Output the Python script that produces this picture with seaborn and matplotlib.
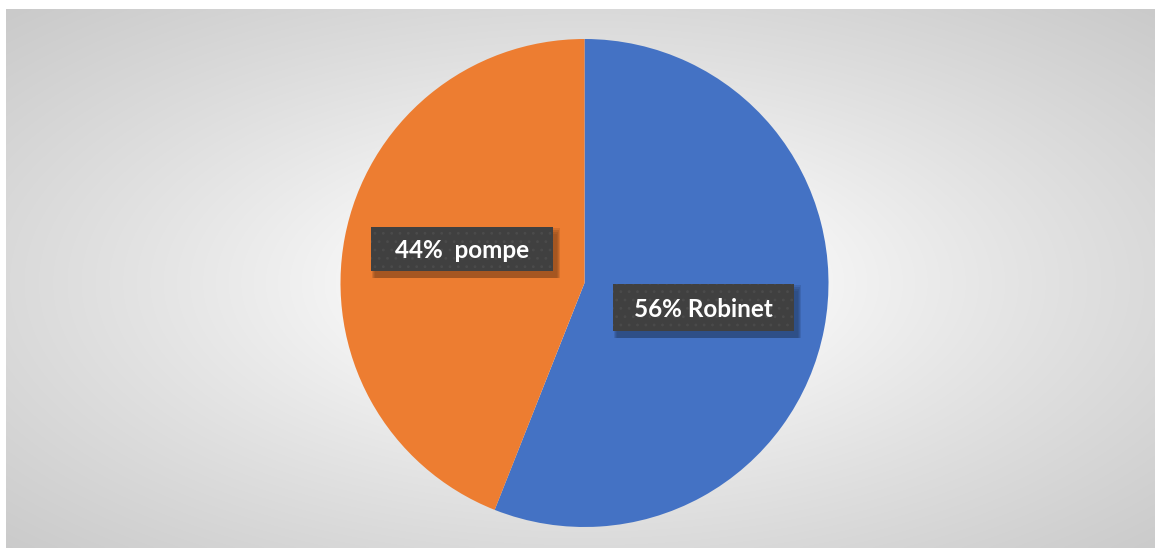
import numpy as np
import matplotlib
matplotlib.use("Agg")
import matplotlib.pyplot as plt
import seaborn as sns
from matplotlib.patches import Rectangle

sns.set_theme(style="white")
plt.rcParams['font.family'] = ['Lato', 'DejaVu Sans']

categories = ["Robinet", "pompe"]
values = [56, 44]
label_texts = ["56% Robinet", "44%  pompe"]
colors = ["#4472C4", "#ED7D31"]

W, H = 1155, 548
fig = plt.figure(figsize=(W / 100, H / 100), dpi=100)
fig.patch.set_facecolor("white")

# background panel with radial gradient
bx0, by0 = 6, 0
bw, bh = W - 6, H - 9
bg = fig.add_axes([bx0 / W, by0 / H, bw / W, bh / H])
nx, ny = 600, 300
xs = np.linspace(0, bw, nx)
ys = np.linspace(0, bh, ny)
X, Y = np.meshgrid(xs, ys)
cx, cy = 584.5 - bx0, 283 - 9
d = np.sqrt(((X - cx) / (bw / 2)) ** 2 + ((Y - cy) / (bh / 2)) ** 2)
val = 255 - 52 * np.clip((d - 0.25) / 1.15, 0, None) ** 0.8
val = np.clip(val, 180, 255) / 255.0
img = np.dstack([val, val, val])
bg.imshow(img, extent=[0, bw, bh, 0], aspect="auto", interpolation="bilinear")
bg.set_axis_off()

# pie axes
R = 244
pcx, pcy = 584.5, H - 283
ax = fig.add_axes([(pcx - R) / W, (pcy - R) / H, 2 * R / W, 2 * R / H])
ax.pie(values, colors=colors, startangle=90, counterclock=False, radius=1,
       wedgeprops=dict(linewidth=0))
ax.set_xlim(-1, 1)
ax.set_ylim(-1, 1)
ax.set_axis_off()

def to_data(px, py):
    return (px - 584.5) / R, (283 - py) / R

boxes = [(613, 284, 794, 331), (371, 227, 553, 271)]
plt.rcParams['hatch.linewidth'] = 0.8
for (x0, y0, x1, y1), txt in zip(boxes, label_texts):
    dx0, dy1 = to_data(x0, y0)
    dx1, dy0 = to_data(x1, y1)
    # soft shadow
    for k, a in [(7, 0.06), (6, 0.08), (5, 0.1), (4, 0.1)]:
        off = k / R
        grow = (7 - k) / R
        ax.add_patch(Rectangle((dx0 + 4 / R - grow, dy0 - off - grow),
                               dx1 - dx0 + 2 * grow, dy1 - dy0 + 2 * grow,
                               facecolor="black", alpha=a, linewidth=0, zorder=5))
    ax.add_patch(Rectangle((dx0, dy0), dx1 - dx0, dy1 - dy0,
                           facecolor="#404040", edgecolor="#4b4b4b", hatch="..",
                           linewidth=0, zorder=6))
    ax.text((dx0 + dx1) / 2, (dy0 + dy1) / 2, txt, color="white",
            fontsize=17.5, fontweight="bold", ha="center", va="center_baseline",
            zorder=7)

fig.savefig("out.png", dpi=100)
